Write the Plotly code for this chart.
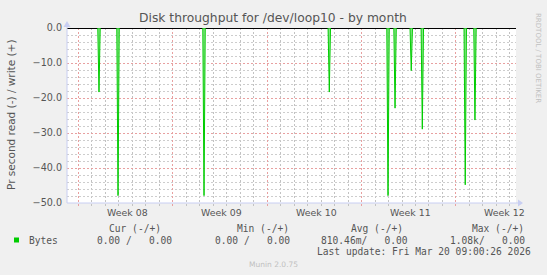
import plotly.graph_objects as go

# ---- data (x in days from left edge of the graph) ----
spike_day = [2.37, 3.78, 10.15, 19.43, 23.78, 24.30, 25.50, 26.32, 29.50, 30.22]
spike_val = [-18.3, -47.9, -47.9, -18.3, -47.9, -22.9, -12.2, -28.9, -44.8, -26.3]
week_start = [0.815, 7.815, 14.815, 21.815, 28.815]
week_labels = ["Week 08", "Week 09", "Week 10", "Week 11", "Week 12"]
y_ticks = [0, -10, -20, -30, -40, -50]
x_span = 33.26

legend_cols = ["Cur (-/+)", "Min (-/+)", "Avg (-/+)", "Max (-/+)"]
legend_vals = ["0.00 /   0.00", "0.00 /   0.00", "810.46m/   0.00", "1.08k/   0.00"]
series_name = "Bytes"
last_update = "Last update: Fri Mar 20 09:00:26 2026"

GREEN = "#00CC00"
TXT = "#555555"

# build spike polygons
w = 0.09
xs, ys = [], []
for d, v in zip(spike_day, spike_val):
    xs += [d - w, d, d + w, None]
    ys += [0, v, 0, None]

fig = go.Figure()
fig.add_trace(go.Scatter(x=xs, y=ys, mode="lines", line=dict(color=GREEN, width=1),
                         fill="toself", fillcolor="rgba(110,225,110,0.8)",
                         hoverinfo="skip", showlegend=False))

W, H = 547, 275
L, R, T, B = 67, 516, 28, 203
pw, ph = R - L, B - T

def px(x):
    return (x - L) / pw

def py(y):
    return (B - y) / ph

fig.update_layout(
    width=W, height=H,
    margin=dict(l=L, r=W - R, t=T, b=H - B),
    paper_bgcolor="#F0F0F0", plot_bgcolor="#FFFFFF",
    showlegend=False,
    font=dict(family="DejaVu Sans", color=TXT, size=10),
)

MAJ = "#E8A0A0"
MIN = "#C2C2C2"
DASH = "2px,2px"
fig.update_xaxes(
    range=[0, x_span], tickmode="array", tickvals=week_start, ticktext=[""] * len(week_start),
    showgrid=True, gridcolor=MAJ, griddash=DASH, gridwidth=1,
    ticks="outside", ticklen=2, tickcolor=MAJ,
    minor=dict(tick0=week_start[0], dtick=1, showgrid=True, gridcolor=MIN,
               griddash=DASH, ticks="outside", ticklen=2, tickcolor=MIN),
    showline=False, zeroline=False, fixedrange=True,
)
fig.update_yaxes(
    range=[-50, 0], tickmode="array", tickvals=y_ticks, tickformat=".1f",
    showgrid=True, gridcolor=MAJ, griddash=DASH,
    minor=dict(dtick=2, showgrid=True, gridcolor="#CDCDCD", griddash=DASH),
    zeroline=True, zerolinecolor="#000000", zerolinewidth=1.2,
    showline=False, ticks="", ticklabelstandoff=4,
    tickfont=dict(size=9.6, color=TXT), fixedrange=True,
)

AX = "#C8CEF2"
shapes = [
    dict(type="line", xref="paper", yref="paper", x0=0, x1=px(519), y0=0, y1=0,
         line=dict(color=AX, width=1)),
    dict(type="line", xref="paper", yref="paper", x0=0, x1=0, y0=0, y1=py(24),
         line=dict(color=AX, width=1)),
    dict(type="path", xref="paper", yref="paper", fillcolor=AX, line=dict(width=0),
         path=f"M {px(518)} {py(199.5)} L {px(523)} {py(203)} L {px(518)} {py(206.5)} Z"),
    dict(type="path", xref="paper", yref="paper", fillcolor=AX, line=dict(width=0),
         path=f"M {px(63.5)} {py(27)} L {px(67)} {py(21)} L {px(70.5)} {py(27)} Z"),
    dict(type="rect", xref="paper", yref="paper", fillcolor=GREEN, line=dict(width=0),
         x0=px(14), x1=px(19), y0=py(242.5), y1=py(237.5)),
]
fig.update_layout(shapes=shapes)

ann = []
def text(x, y, s, size=9.6, color=TXT, anchor="center", family="DejaVu Sans Mono", angle=0):
    ann.append(dict(x=px(x), y=py(y), xref="paper", yref="paper", text=s, showarrow=False,
                    xanchor=anchor, yanchor="middle", textangle=angle,
                    font=dict(family=family, size=size, color=color)))

text(273, 18, "Disk throughput for /dev/loop10 - by month", size=12.3, family="DejaVu Sans")
text(11, 115, "Pr second read (-) / write (+)", size=10.5, family="DejaVu Sans", angle=-90)
text(538, 58, "RRDTOOL / TOBI OETIKER", size=7, color="#C0C0C0", family="DejaVu Sans", angle=90)

for s, lbl in zip(week_start, week_labels):
    xpix = L + (s + 3.63) / x_span * pw
    text(xpix, 212, lbl, size=9.4, family="DejaVu Sans")

col_right = [163, 291, 405, 526]
val_right = [173.5, 291.5, 409.5, 527]
for cr, c in zip(col_right, legend_cols):
    text(cr, 228, c, anchor="right")
for vr, v in zip(val_right, legend_vals):
    text(vr, 240, v.replace(" ", "&nbsp;"), anchor="right")
text(26.5, 240, series_name, anchor="left")
text(533, 251.5, last_update, anchor="right")
text(273, 264, "Munin 2.0.75", size=7.5, color="#C0C0C0", family="DejaVu Sans")

fig.update_layout(annotations=ann)
fig.write_html("out.html")
